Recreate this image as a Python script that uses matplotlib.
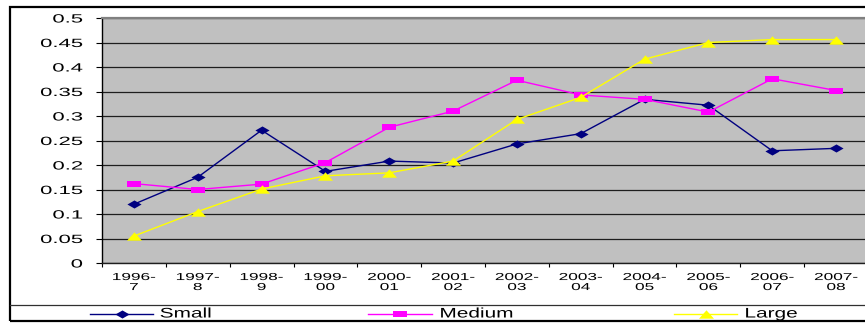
import numpy as np
import matplotlib
matplotlib.use("Agg")
import matplotlib.pyplot as plt
from matplotlib.lines import Line2D
from matplotlib.patches import Rectangle
from matplotlib.path import Path
from matplotlib.transforms import Affine2D
from matplotlib.patheffects import AbstractPathEffect

# ---- data ----
YEARS = ["1996-\n7", "1997-\n8", "1998-\n9", "1999-\n00", "2000-\n01", "2001-\n02",
         "2002-\n03", "2003-\n04", "2004-\n05", "2005-\n06", "2006-\n07", "2007-\n08"]
SMALL = [0.120, 0.175, 0.271, 0.187, 0.208, 0.204, 0.243, 0.264, 0.334, 0.322, 0.229, 0.234]
MEDIUM = [0.162, 0.150, 0.161, 0.205, 0.277, 0.310, 0.373, 0.343, 0.334, 0.308, 0.376, 0.352]
LARGE = [0.055, 0.105, 0.151, 0.178, 0.184, 0.208, 0.293, 0.338, 0.416, 0.450, 0.456, 0.456]
YTICKS = [0, 0.05, 0.1, 0.15, 0.2, 0.25, 0.3, 0.35, 0.4, 0.45, 0.5]
SERIES = ["Small", "Medium", "Large"]

W, H = 865, 323
FONT = "Liberation Sans"


class HStretch(AbstractPathEffect):
    """Widen glyphs horizontally about the left/centre/right of each line."""
    def __init__(self, sx, anchor="center"):
        super().__init__()
        self.sx = sx
        self.anchor = anchor

    def draw_path(self, renderer, gc, tpath, affine, rgbFace=None):
        ext = tpath.get_extents()
        cx = {"left": ext.x0, "center": 0.5 * (ext.x0 + ext.x1), "right": ext.x1}[self.anchor]
        st = Affine2D().translate(-cx, 0).scale(self.sx, 1).translate(cx, 0)
        renderer.draw_path(gc, tpath, st + affine, rgbFace)


def px(x, y):
    return x / W, 1 - y / H


# wide, flat marker shapes
DIAMOND = Path([(-7, 0), (0, 4), (7, 0), (0, -4), (-7, 0)], closed=True)
SQUARE = Path([(-6.5, -3.2), (6.5, -3.2), (6.5, 3.2), (-6.5, 3.2), (-6.5, -3.2)], closed=True)
TRIANGLE = Path([(-7.5, -4.2), (7.5, -4.2), (0, 4.2), (-7.5, -4.2)], closed=True)
STYLE = {
    "Small": dict(color="#000080", marker=DIAMOND, ms=10.2),
    "Medium": dict(color="#FF00FF", marker=SQUARE, ms=9.4),
    "Large": dict(color="#FFFF00", marker=TRIANGLE, ms=10.8),
}

fig = plt.figure(figsize=(W / 100, H / 100), dpi=100)
fig.patch.set_facecolor("white")

ax = fig.add_axes([102 / W, (H - 263) / H, 766 / W, 245 / H])
ax.set_facecolor("#C0C0C0")
ax.set_axisbelow(True)

x = np.arange(len(YEARS))
for name, vals in zip(SERIES, [SMALL, MEDIUM, LARGE]):
    st = STYLE[name]
    ax.plot(x, vals, color=st["color"], lw=1.0, marker=st["marker"], ms=st["ms"],
            mec=st["color"], mew=0, mfc=st["color"], zorder=3, clip_on=False)

ax.set_xlim(-0.5, len(YEARS) - 0.5)
ax.set_ylim(0, 0.5)
ax.set_yticks(YTICKS)
ax.set_yticklabels([f"{v:g}" for v in YTICKS])
ax.yaxis.grid(True, color="#1e1e1e", lw=0.9)
ax.tick_params(axis="y", direction="out", length=4.5, width=0.8, pad=9.5,
               labelsize=8.6, labelfontfamily=FONT)
ax.set_xticks(x)
ax.set_xticklabels(YEARS, linespacing=1.0)
ax.set_xticks(np.arange(-0.5, len(YEARS)), minor=True)
ax.tick_params(axis="x", which="major", length=0, pad=6.5, labelsize=7.3,
               labelfontfamily=FONT)
ax.tick_params(axis="x", which="minor", direction="out", length=3, width=0.8)

for lbl in ax.get_yticklabels():
    lbl.set_path_effects([HStretch(1.85, "right")])
for lbl in ax.get_xticklabels():
    lbl.set_path_effects([HStretch(1.7, "center")])

ax.spines["left"].set_color("black")
ax.spines["left"].set_linewidth(1.0)
ax.spines["bottom"].set_color("#1e1e1e")
ax.spines["bottom"].set_linewidth(1.0)
ax.spines["top"].set_color("#808080")
ax.spines["top"].set_linewidth(1.6)
ax.spines["right"].set_visible(False)

# outer frame and legend strip
x0, y0 = px(10, 321)
x1, y1 = px(870, 6.5)
fig.add_artist(Rectangle((x0, y0), x1 - x0, y1 - y0, transform=fig.transFigure,
                         fill=False, ec="black", lw=1.6))
fig.add_artist(Line2D([10 / W, 1], [1 - 305 / H] * 2, transform=fig.transFigure,
                      color="#303030", lw=0.9))

keys = {"Small": (90, 153, 160), "Medium": (368, 432, 440), "Large": (674, 737, 745)}
ly = 1 - 313.5 / H
for name in SERIES:
    st = STYLE[name]
    a, b, t = keys[name]
    fig.add_artist(Line2D([a / W, b / W], [ly, ly], transform=fig.transFigure,
                          color=st["color"], lw=1.0))
    fig.add_artist(Line2D([(a + b) / 2 / W], [ly], transform=fig.transFigure,
                          marker=st["marker"], ms=st["ms"], color=st["color"], mew=0))
    fig.text(t / W, ly, name, fontsize=10, family=FONT, ha="left", va="center",
             path_effects=[HStretch(1.5, "left")])

fig.savefig("out.png", dpi=100)
